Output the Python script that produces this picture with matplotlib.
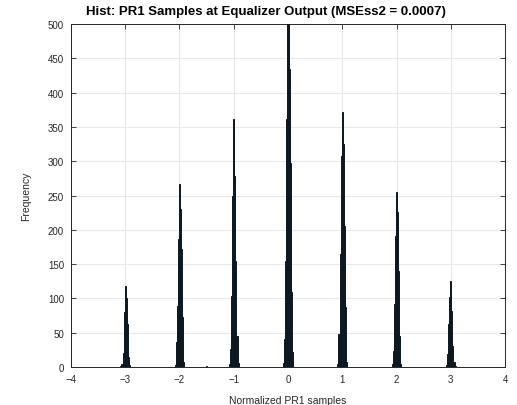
import matplotlib
matplotlib.use("Agg")
import matplotlib.pyplot as plt
import numpy as np

plt.rcParams['font.family'] = ['Liberation Sans', 'DejaVu Sans']

# Histogram data: bin offsets relative to each symbol level, counts per level
levels = [-3, -2, -1, 0, 1, 2, 3]
offsets = [-0.08, -0.06, -0.04, -0.02, 0.0, 0.02, 0.04, 0.06, 0.08]
counts_m3 = [1, 4, 20, 80, 118, 100, 62, 15, 3]
counts_m2 = [3, 36, 89, 186, 267, 230, 172, 73, 7]
counts_m1 = [4, 26, 103, 249, 361, 278, 155, 45, 6]
counts_0 = [6, 41, 155, 361, 500, 434, 298, 109, 22]
counts_p1 = [5, 48, 165, 308, 372, 325, 206, 88, 8]
counts_p2 = [4, 23, 92, 191, 255, 226, 140, 45, 5]
counts_p3 = [3, 19, 63, 102, 125, 82, 31, 8, 2]
stray_centers = [-1.5]
stray_counts = [2]
bin_width = 0.02

xticks = [-4, -3, -2, -1, 0, 1, 2, 3, 4]
yticks = [0, 50, 100, 150, 200, 250, 300, 350, 400, 450, 500]

all_counts = [counts_m3, counts_m2, counts_m1, counts_0, counts_p1, counts_p2, counts_p3]
centers = []
heights = []
for lv, cs in zip(levels, all_counts):
    for off, c in zip(offsets, cs):
        centers.append(lv + off)
        heights.append(c)
centers += stray_centers
heights += stray_counts

fig = plt.figure(figsize=(5.17, 4.06), dpi=100)
ax = fig.add_axes([0.1373, 0.0936, 0.9768 - 0.1373, 0.9384 - 0.0936])

ax.bar(centers, heights, width=bin_width, color='#0c1822', edgecolor='#0c1822',
       linewidth=0.7, zorder=3)

ax.set_xlim(-4, 4)
ax.set_ylim(0, 500)
ax.set_xticks(xticks)
ax.set_yticks(yticks)
ax.grid(True, color='#e8e8e8', linewidth=0.8, zorder=0)
ax.set_axisbelow(True)
ax.tick_params(direction='in', length=3.5, width=0.6, top=True, right=True,
               labelsize=7, colors='#262626', pad=5)
for s in ax.spines.values():
    s.set_color('#262626')
    s.set_linewidth(0.7)

fig.text(266 / 517, 1 - 12 / 406,
         'Hist: PR1 Samples at Equalizer Output (MSEss2 = 0.0007)',
         fontsize=9.5, fontweight='bold', ha='center', va='center')
ax.set_xlabel('Normalized PR1 samples', fontsize=7.5, color='#262626', labelpad=8)
ax.set_ylabel('Frequency', fontsize=7.5, color='#262626', labelpad=12)

fig.savefig('out.png', dpi=100)
